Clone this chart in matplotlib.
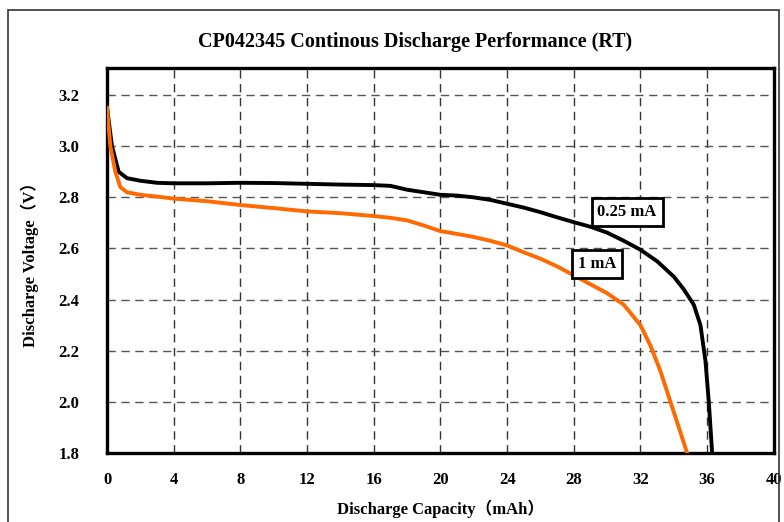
import matplotlib.pyplot as plt
from matplotlib.patches import Rectangle

# 0.25 mA discharge curve (capacity in mAh, voltage in V)
cap_025 = [0, 0.3, 0.7, 1.2, 2, 3, 4, 6, 8, 10, 12, 14, 16, 17, 18, 19, 20,
           21, 22, 23, 24, 25, 26, 27, 28, 29, 30, 31, 32, 33, 34, 34.6,
           35.2, 35.6, 35.9, 36.1, 36.3]
volt_025 = [3.15, 3.0, 2.9, 2.875, 2.865, 2.857, 2.855, 2.855, 2.857, 2.856,
            2.853, 2.85, 2.848, 2.845, 2.83, 2.82, 2.81, 2.807, 2.8, 2.79,
            2.775, 2.76, 2.742, 2.722, 2.703, 2.685, 2.662, 2.63, 2.595,
            2.55, 2.49, 2.44, 2.38, 2.3, 2.16, 2.0, 1.8]

# 1 mA discharge curve
cap_1 = [0, 0.2, 0.5, 0.8, 1.2, 2, 3, 4, 6, 8, 10, 12, 14, 16, 17, 18, 19,
         20, 21, 22, 23, 24, 25, 26, 27, 28, 29, 30, 31, 32, 32.6, 33.2,
         33.8, 34.3, 34.8]
volt_1 = [3.15, 3.0, 2.9, 2.84, 2.82, 2.81, 2.803, 2.795, 2.785, 2.77, 2.758,
          2.745, 2.738, 2.727, 2.72, 2.71, 2.69, 2.668, 2.657, 2.645, 2.63,
          2.612, 2.585, 2.56, 2.53, 2.495, 2.46, 2.425, 2.38, 2.3, 2.22,
          2.12, 2.0, 1.9, 1.8]

x_ticks = list(range(0, 41, 4))
y_ticks = [1.8, 2.0, 2.2, 2.4, 2.6, 2.8, 3.0, 3.2]

serif = ['Liberation Serif', 'Noto Sans CJK SC']

fig = plt.figure(figsize=(7.84, 5.22), dpi=100)
ax = fig.add_axes([0.1365, 0.1322, 0.8505, 0.7375])

# outer frame around the whole chart
fig.patches.append(Rectangle((8 / 784, -0.02), 771 / 784, 1.02 - 10 / 522,
                             transform=fig.transFigure, fill=False,
                             edgecolor='#333333', linewidth=1.2))

ax.plot(cap_025, volt_025, color='black', linewidth=2.8, zorder=3)
ax.plot(cap_1, volt_1, color='#ff6a00', linewidth=2.8, zorder=3)

ax.set_xlim(0, 40)
ax.set_ylim(1.8, 3.306)
ax.set_xticks(x_ticks)
ax.set_yticks(y_ticks)
ax.set_yticklabels(['%.1f' % v for v in y_ticks])

ax.grid(True, axis='y', linestyle=(0, (6, 4)), color='#555555', linewidth=1.0)
ax.grid(True, axis='x', linestyle=(0, (6, 4)), color='#333333', linewidth=1.0)
ax.set_axisbelow(True)

for s in ax.spines.values():
    s.set_linewidth(2.4)

ax.tick_params(length=0, pad=14)
for lab in ax.get_xticklabels() + ax.get_yticklabels():
    lab.set_fontfamily(serif)
    lab.set_fontweight('bold')
    lab.set_fontsize(12)
ax.tick_params(axis='y', pad=20)

fig.text(415 / 784, 1 - 42 / 522,
         'CP042345 Continous Discharge Performance (RT)', family=serif,
         fontweight='bold', fontsize=14.5, ha='center', va='center')
ax.set_xlabel('Discharge Capacity（mAh）', family=serif, fontweight='bold',
              fontsize=12, labelpad=8)
ax.set_ylabel('Discharge Voltage（V）', family=serif, fontweight='bold',
              fontsize=12, labelpad=14)

box = dict(boxstyle='square,pad=0.35', facecolor='white', edgecolor='black',
           linewidth=2)
ax.text(31.2, 2.742, '0.25 mA', family=serif, fontweight='bold', fontsize=12,
        ha='center', va='center', bbox=box, zorder=5)
ax.text(29.4, 2.54, '1 mA', family=serif, fontweight='bold', fontsize=12,
        ha='center', va='center', bbox=box, zorder=5)

fig.savefig('out.png', dpi=100)
